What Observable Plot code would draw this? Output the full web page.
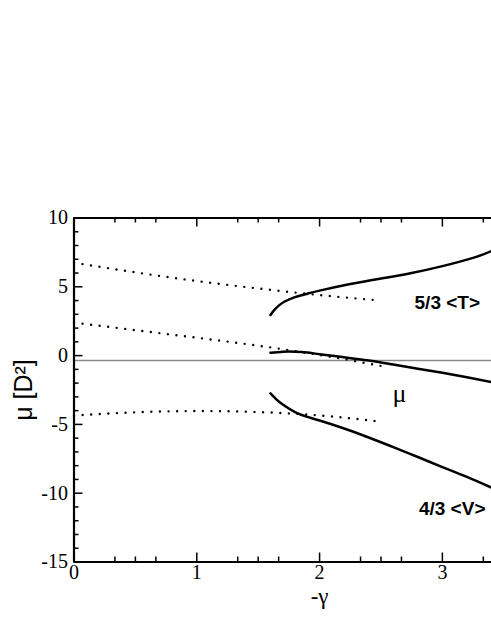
<!DOCTYPE html>
<html><head><meta charset="utf-8">
<script src="https://cdn.jsdelivr.net/npm/d3@7"></script>
<script src="https://cdn.jsdelivr.net/npm/@observablehq/plot@0.6"></script>
<style>body{margin:0;background:#fff}</style>
</head><body><div id="chart"></div>
<script>
// dotted (approximate) curves, x = -gamma
const dotX = [0, 0.5, 1, 1.5, 2, 2.5];
const dotT = [6.75, 6.05, 5.42, 4.88, 4.4, 4.0];
const dotMu = [2.4, 1.85, 1.3, 0.72, 0.05, -0.75];
const dotVX = [0, 0.5, 1, 1.5, 2, 2.45];
const dotV = [-4.35, -4.12, -4.03, -4.1, -4.35, -4.75];

// solid (exact) curves
const solTX = [1.6, 1.63, 1.67, 1.72, 1.8, 1.9, 2.0, 2.25, 2.5, 2.75, 3.0, 3.25, 3.4];
const solT  = [2.95, 3.3, 3.65, 3.95, 4.25, 4.5, 4.72, 5.2, 5.6, 6.0, 6.5, 7.1, 7.6];
const solMuX = [1.6, 1.7, 1.8, 1.9, 2.0, 2.2, 2.4, 2.6, 2.8, 3.0, 3.2, 3.4];
const solMu  = [0.2, 0.28, 0.28, 0.22, 0.1, -0.12, -0.35, -0.65, -0.95, -1.25, -1.58, -1.92];
const solVX = [1.6, 1.65, 1.7, 1.8, 1.9, 2.0, 2.2, 2.4, 2.6, 2.8, 3.0, 3.2, 3.4];
const solV  = [-2.75, -3.2, -3.55, -4.1, -4.45, -4.72, -5.3, -5.95, -6.65, -7.37, -8.1, -8.82, -9.6];

const refLine = [-0.35];

const xMajor = [0, 1, 2, 3];
const xMinor = [1/3, 1/2, 2/3, 4/3, 3/2, 5/3, 7/3, 5/2, 8/3, 10/3];
const yMajor = [-15, -10, -5, 0, 5, 10];
const yMinor = [-14,-13,-12,-11,-9,-8,-7,-6,-4,-3,-2,-1,1,2,3,4,6,7,8,9];

const labels = [
  {text: "5/3 <T>", x: 3.04, y: 3.8},
  {text: "4/3 <V>", x: 3.08, y: -11.17}
];
const muLabel = [{text: "μ", x: 2.65, y: -2.75}];
const xTitle = [{text: "-γ", x: 2}];
const yTitle = [{text: "μ [D²]", y: -2.5}];

const zip = (xs, ys) => xs.map((x, i) => ({x, y: ys[i]}));

const W = 491, H = 635;
const mT = 217.5, mB = 73.5, mL = 73.5, mR = 0;
const plotH = H - mT - mB, plotW = W - mL - mR;
const serif = "Liberation Serif";
const sans = "Liberation Sans";

const dotted = {stroke: "black", strokeWidth: 2.4, strokeDasharray: "0 8.6", strokeLinecap: "round", curve: "natural"};
const solid = {stroke: "black", strokeWidth: 2.5, curve: "natural"};

const chart = Plot.plot({
  width: W, height: H,
  marginTop: mT, marginBottom: mB, marginLeft: mL, marginRight: mR,
  x: {domain: [0, 3.4], axis: null},
  y: {domain: [-15, 10], axis: null},
  style: {background: "white"},
  marks: [
    Plot.ruleY(refLine, {y: d => d, stroke: "#8a8a8a", strokeWidth: 1.5}),
    Plot.line(zip(dotX, dotT), {x: "x", y: "y", ...dotted}),
    Plot.line(zip(dotX, dotMu), {x: "x", y: "y", ...dotted}),
    Plot.line(zip(dotVX, dotV), {x: "x", y: "y", ...dotted}),
    Plot.line(zip(solTX, solT), {x: "x", y: "y", ...solid}),
    Plot.line(zip(solMuX, solMu), {x: "x", y: "y", ...solid}),
    Plot.line(zip(solVX, solV), {x: "x", y: "y", ...solid}),
    // frame
    Plot.ruleX([0], {x: d => d, strokeWidth: 2.2}),
    Plot.ruleY([-15, 10], {y: d => d, strokeWidth: 2.2}),
    // ticks bottom / top (inward)
    Plot.tickX(xMajor, {x: d => d, insetTop: plotH - 9, strokeWidth: 1.5}),
    Plot.tickX(xMinor, {x: d => d, insetTop: plotH - 5, strokeWidth: 1.5}),
    Plot.tickX(xMajor, {x: d => d, insetBottom: plotH - 9, strokeWidth: 1.5}),
    Plot.tickX(xMinor, {x: d => d, insetBottom: plotH - 5, strokeWidth: 1.5}),
    // ticks left
    Plot.tickY(yMajor, {y: d => d, insetRight: plotW - 9, strokeWidth: 1.5}),
    Plot.tickY(yMinor, {y: d => d, insetRight: plotW - 5, strokeWidth: 1.5}),
    // tick labels
    Plot.text(xMajor, {x: d => d, text: d => String(d), frameAnchor: "bottom", lineAnchor: "top", dy: 3, fontFamily: serif, fontSize: 20}),
    Plot.text(yMajor, {y: d => d, text: d => String(d), frameAnchor: "left", textAnchor: "end", dx: -6, fontFamily: serif, fontSize: 20}),
    Plot.text(labels, {x: "x", y: "y", text: "text", fontFamily: sans, fontWeight: "bold", fontSize: 19}),
    Plot.text(muLabel, {x: "x", y: "y", text: "text", fontFamily: serif, fontSize: 26}),
    Plot.text(xTitle, {x: "x", text: "text", frameAnchor: "bottom", dy: 42, fontFamily: serif, fontSize: 23}),
    Plot.text(yTitle, {y: "y", text: "text", frameAnchor: "left", textAnchor: "middle", dx: -50, rotate: -90, fontFamily: sans, fontSize: 25})
  ]
});
document.getElementById("chart").appendChild(chart);
</script>
</body></html>
